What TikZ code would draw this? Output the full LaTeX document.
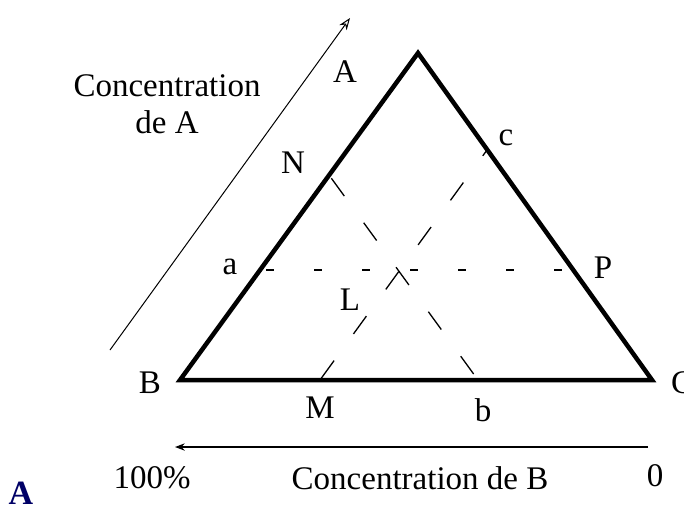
\documentclass[tikz,border=0pt]{standalone}
\usepackage{fontspec}
\setmainfont{Liberation Serif}
\usetikzlibrary{arrows.meta}
\begin{document}
\begin{tikzpicture}[x=1pt, y=-1pt, >=Stealth, line cap=butt, line join=miter,
    lbl/.style={inner sep=0pt, font=\fontsize{33}{37}\selectfont},
    side/.style={line width=4.5pt},
    hguide/.style={line width=1.3pt, dash pattern=on 8pt off 40pt},
    dguide/.style={line width=1.3pt, dash pattern=on 22pt off 33pt}]

  \useasboundingbox (0,0) rectangle (684,512);

  %--------------------------
  % Triangle ABC
  %--------------------------
  \coordinate (A) at (418,53);
  \coordinate (B) at (180,380);
  \coordinate (C) at (652,380);

  \draw[side] (B) -- (A) -- (C) -- cycle;

  % points on the sides
  \coordinate (a) at (260,270);
  \coordinate (P) at (573,270);
  \coordinate (N) at (329,175);
  \coordinate (b) at (478,380);
  \coordinate (M) at (320,380);
  \coordinate (c) at (487,150);

  % dashed lines through L
  \draw[hguide, dash phase=-6pt] (a) -- (P);
  \draw[dguide, dash phase=-4pt] (N) -- (b);
  \draw[dguide, dash phase=-2pt] (M) -- (c);

  % labels
  \node[lbl] (lA) at (345,72) {A};
  \node[lbl] (lB) at (150,383) {B};
  \node[lbl] (lC) at (682,383) {C};
  \node[lbl] (la) at (230,267) {a};
  \node[lbl] (lP) at (603,268) {P};
  \node[lbl] (lN) at (293,163) {N};
  \node[lbl] (lc) at (506,138) {c};
  \node[lbl] (lL) at (350,300) {L};
  \node[lbl] (lM) at (320,408) {M};
  \node[lbl] (lb) at (483,410) {b};

  %--------------------------
  % Concentration axes
  %--------------------------
  \coordinate (Abot) at (110,350);
  \coordinate (Atop) at (350,18);
  \draw[-{Stealth[length=12pt, width=9pt, open]}, line width=1pt] (Abot) -- (Atop);
  \node[lbl, align=center] (cA) at (167,104) {Concentration\\de A};

  \coordinate (Bright) at (648,447);
  \coordinate (Bleft) at (175,447);
  \draw[->, line width=1.5pt] (Bright) -- (Bleft);
  \node[lbl] (cent) at (152,478) {100\%};
  \node[lbl] (cB) at (420,478) {Concentration de B};
  \node[lbl] (zero) at (655,476) {0};

  % corner mark
  \node[lbl, font=\fontsize{34}{38}\selectfont\bfseries, text=blue!40!black] (logo) at (21,493) {A};

\end{tikzpicture}
\end{document}
